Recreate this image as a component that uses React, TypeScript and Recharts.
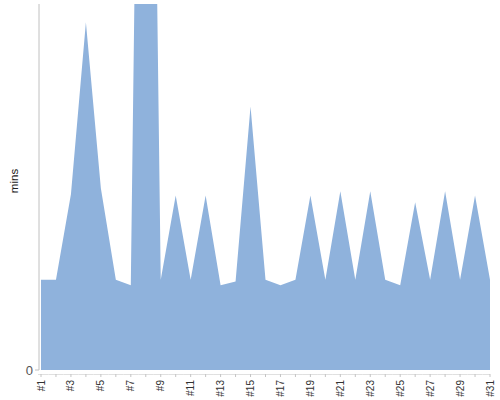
import { AreaChart, Area, XAxis, YAxis } from 'recharts'

const days = Array.from({ length: 31 }, (_, i) => `#${i + 1}`)
const minutes = [
  14.8, 14.8, 28.8, 57.0, 29.8, 14.8, 13.9, 208, 14.8, 28.6,
  14.8, 28.6, 13.9, 14.5, 43.2, 14.8, 13.9, 14.8, 28.6, 14.8,
  29.3, 14.8, 29.3, 14.8, 13.9, 27.5, 14.8, 29.3, 14.8, 28.6,
  14.8,
]
const yTicks = [0]

const data = days.map((day, i) => ({ day, mins: minutes[i] }))

const font = 'Liberation Sans, Arial, sans-serif'

// axis line sits a few px below the plot, drawn per tick
function DayTick(props: any) {
  const { x, y, payload, index } = props
  const step = 14.97
  const left = index === 0 ? x - 3 : x - step / 2
  const right = index === 30 ? x : x + step / 2
  return (
    <g>
      <line x1={left} x2={right} y1={y + 4.5} y2={y + 4.5} stroke="#e0e0e0" />
      <line x1={x} x2={x} y1={y + 4} y2={y + 7} stroke="#c4c4c4" />
      {index % 2 === 0 && (
        <text
          x={0}
          y={0}
          transform={`translate(${x + 3.5},${y + 10}) rotate(-90)`}
          textAnchor="end"
          fontSize={10}
          fill="#333"
          fontFamily={font}
        >
          {payload.value}
        </text>
      )}
    </g>
  )
}

function MinsLabel() {
  return (
    <text
      x={0}
      y={0}
      transform="translate(14,181) rotate(-90)"
      textAnchor="middle"
      dominantBaseline="central"
      fontSize={11.5}
      fill="#222"
      fontFamily={font}
    >
      mins
    </text>
  )
}

export default function App() {
  return (
    <div style={{ position: 'absolute', left: 0, top: 0 }}>
      <AreaChart
        width={500}
        height={400}
        data={data}
        margin={{ top: 4, right: 10, bottom: 0, left: 0 }}
        style={{ fontFamily: font }}
      >
        <XAxis
          dataKey="day"
          interval={0}
          height={30}
          padding={{ left: 2, right: 0 }}
          axisLine={false}
          tickLine={false}
          tickSize={0}
          tickMargin={0}
          tick={<DayTick />}
        />
        <YAxis
          width={39}
          domain={[0, 60]}
          allowDataOverflow
          ticks={yTicks}
          axisLine={{ stroke: '#c0c0c0' }}
          tickLine={{ stroke: '#c0c0c0' }}
          tickSize={4}
          tick={{ fontSize: 13, fill: '#555' }}
          label={<MinsLabel />}
        />
        <Area
          type="linear"
          dataKey="mins"
          stroke="none"
          fill="#8fb2dc"
          fillOpacity={1}
          isAnimationActive={false}
        />
      </AreaChart>
    </div>
  )
}
